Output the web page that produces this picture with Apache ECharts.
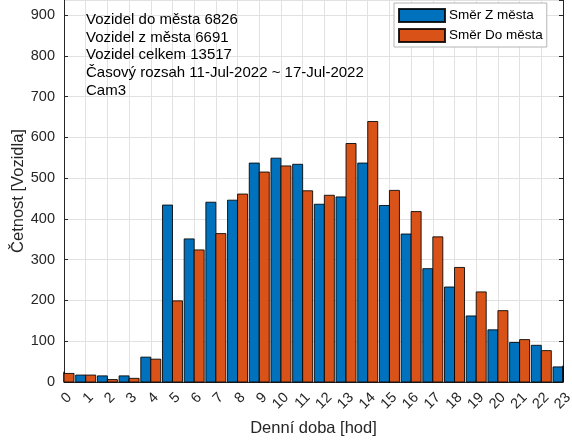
<!DOCTYPE html>
<html>
<head>
<meta charset="utf-8">
<title>Četnost vozidel podle denní doby</title>
<script src="https://cdn.jsdelivr.net/npm/echarts@6/dist/echarts.min.js"></script>
<style>
  html, body { margin: 0; padding: 0; background: #ffffff; }
  #chart { width: 572px; height: 441px; }
</style>
</head>
<body>
<div id="chart"></div>
<script>
// Hour of day (0–23)
const hours = [0, 1, 2, 3, 4, 5, 6, 7, 8, 9, 10, 11, 12, 13, 14, 15, 16, 17, 18, 19, 20, 21, 22, 23];

// Vehicle counts per hour, direction out of town
const outOfTown = [25, 17, 15, 15, 61, 434, 351, 441, 446, 537, 549, 534, 436, 454, 537, 433, 363, 278, 233, 162, 128, 97, 90, 37];

// Vehicle counts per hour, direction into town
const intoTown = [21, 17, 6, 9, 56, 199, 324, 364, 461, 515, 530, 469, 458, 585, 639, 470, 418, 356, 281, 221, 175, 104, 77, 40];

const seriesNames = ['Směr Z města', 'Směr Do města'];

const infoLines = [
  'Vozidel do města 6826',
  'Vozidel z města 6691',
  'Vozidel celkem 13517',
  'Časový rozsah 11-Jul-2022 ~ 17-Jul-2022',
  'Cam3'
];

const FONT = '"Liberation Sans", Arial, Helvetica, sans-serif';
const AXIS_COLOR = '#262626';
const GRID_COLOR = '#e1e1e1';
const BAR_PX = 10;
const TICK_FONT = 14.5;
const TITLE_FONT = 16.5;

const toPairs = (vals) => hours.map((h, i) => [h, vals[i]]);

// Grouped bar drawn through the axes' scales and clipped to the plot area,
// so the half-bars at the first and last hour are cut at the axis edges.
function groupedBar(side) {
  return function (params, api) {
    const h = api.value(0);
    const v = api.value(1);
    const base = api.coord([h, 0]);
    const top = api.coord([h, v]);
    const rect = {
      x: side < 0 ? base[0] - BAR_PX : base[0],
      y: top[1],
      width: BAR_PX,
      height: base[1] - top[1]
    };
    const cs = params.coordSys;
    const clipped = echarts.graphic.clipRectByRect(rect, {
      x: cs.x, y: cs.y, width: cs.width, height: cs.height
    });
    if (!clipped) return null;
    return { type: 'rect', shape: clipped, style: api.style() };
  };
}

const chart = echarts.init(document.getElementById('chart'), null, { renderer: 'canvas' });

chart.setOption({
  animation: false,
  backgroundColor: '#ffffff',
  textStyle: { fontFamily: FONT },
  grid: {
    left: 64, right: 9, top: 0, bottom: 59,
    containLabel: false,
    outerBoundsMode: 'none'
  },
  title: {
    text: infoLines.join('\n'),
    left: 81,
    top: 6,
    textStyle: {
      fontFamily: FONT,
      fontSize: 15,
      fontWeight: 'normal',
      color: '#000000',
      lineHeight: 17.7
    }
  },
  legend: {
    data: seriesNames,
    icon: 'rect',
    orient: 'vertical',
    left: 394,
    top: 3,
    width: 160,
    padding: [5, 4, 4, 4],
    itemWidth: 46,
    itemHeight: 13,
    itemGap: 5,
    backgroundColor: '#ffffff',
    borderColor: '#b4b4b4',
    borderWidth: 1,
    textStyle: { fontFamily: FONT, fontSize: 13.5, color: '#000000', padding: [0, 0, 0, -1] }
  },
  xAxis: {
    type: 'value',
    min: 0,
    max: 23,
    interval: 1,
    name: 'Denní doba [hod]',
    nameLocation: 'middle',
    nameGap: 38,
    nameMoveOverlap: false,
    nameTextStyle: { fontFamily: FONT, fontSize: TITLE_FONT, color: AXIS_COLOR },
    axisLine: { show: true, onZero: false, lineStyle: { color: AXIS_COLOR, width: 1 } },
    axisTick: { show: true, inside: true, length: 4, lineStyle: { color: AXIS_COLOR } },
    axisLabel: {
      rotate: 45,
      margin: 8,
      verticalAlign: 'top',
      fontFamily: FONT,
      fontSize: TICK_FONT,
      color: AXIS_COLOR
    },
    splitLine: { show: true, lineStyle: { color: GRID_COLOR, width: 1 } }
  },
  yAxis: [
    {
      type: 'value',
      min: 0,
      max: 937,
      interval: 100,
      name: 'Četnost [Vozidla]',
      nameLocation: 'middle',
      nameGap: 37,
      nameMoveOverlap: false,
      nameRotate: 90,
      nameTextStyle: { fontFamily: FONT, fontSize: TITLE_FONT, color: AXIS_COLOR },
      axisLine: { show: true, onZero: false, lineStyle: { color: AXIS_COLOR, width: 1 } },
      axisTick: { show: true, inside: true, length: 4, lineStyle: { color: AXIS_COLOR } },
      axisLabel: {
        showMaxLabel: false,
        margin: 9,
        fontFamily: FONT,
        fontSize: TICK_FONT,
        color: AXIS_COLOR
      },
      splitLine: { show: true, lineStyle: { color: GRID_COLOR, width: 1 } }
    },
    {
      type: 'value',
      position: 'right',
      min: 0,
      max: 937,
      interval: 100,
      axisLine: { show: true, onZero: false, lineStyle: { color: AXIS_COLOR, width: 1 } },
      axisTick: { show: true, inside: true, length: 4, lineStyle: { color: AXIS_COLOR } },
      axisLabel: { show: false },
      splitLine: { show: false }
    }
  ],
  series: [
    {
      name: seriesNames[0],
      type: 'custom',
      yAxisIndex: 0,
      data: toPairs(outOfTown),
      encode: { x: 0, y: 1 },
      renderItem: groupedBar(-1),
      itemStyle: { color: '#0072BD', borderColor: 'rgba(0,0,0,0.85)', borderWidth: 1 }
    },
    {
      name: seriesNames[1],
      type: 'custom',
      yAxisIndex: 0,
      data: toPairs(intoTown),
      encode: { x: 0, y: 1 },
      renderItem: groupedBar(1),
      itemStyle: { color: '#D95319', borderColor: 'rgba(0,0,0,0.85)', borderWidth: 1 }
    }
  ]
});
</script>
</body>
</html>
